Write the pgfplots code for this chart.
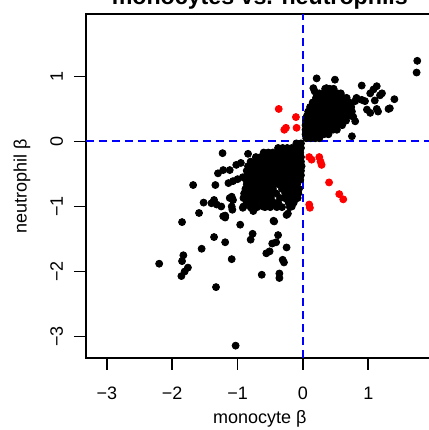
\documentclass[border=0pt]{standalone}
\usepackage{pgfplots}
\pgfplotsset{compat=1.18}
\usepackage{fontspec}
\setmainfont{Liberation Sans}

\begin{document}
\begin{tikzpicture}
% the reference is cropped: right border and top of title fall outside
\path[use as bounding box] (-43pt,-36pt) rectangle (171.5pt,179pt);
\clip (-43pt,-36pt) rectangle (171.5pt,179pt);
\begin{axis}[
    name=ax,
    at={(0,0)}, anchor=south west,
    scale only axis,
    width=173.8pt, height=172pt,
    xmin=-3.32, xmax=2.0,
    ymin=-3.33, ymax=1.96,
    xtick={-3,-2,-1,0,1}, ytick={-3,-2,-1,0,1},
    xticklabels={−3,−2,−1,0,1},
    yticklabels={−3,−2,−1,0,1},
    xtick pos=left, ytick pos=left,
    tick align=outside,
    major tick length=6pt,
    axis line style={line width=0.8pt},
    every tick/.style={black, line width=0.8pt},
    tick label style={font=\fontsize{9}{10}\selectfont},
    xticklabel style={anchor=base, yshift=-14.5pt},
    yticklabel style={xshift=-5.5pt, rotate=90, anchor=base},
    label style={font=\fontsize{9}{10}\selectfont},
    xlabel={monocyte β},
    ylabel={neutrophil β},
    xlabel style={at={(axis description cs:0.5,-0.19)}, anchor=base},
    ylabel style={at={(axis description cs:-0.171,0.5)}, anchor=base, rotate=0},
]
% black points: outliers, then the two dense clusters
\addplot[only marks, mark=*, mark size=1.75pt, black] coordinates {
(-1.23,-0.18) (-0.84,-0.19) (-1.68,-0.67) (-1.34,-0.67) (-1.85,-1.24)
(-1.59,-1.10) (-1.52,-0.94) (-1.40,-0.95) (-1.32,-0.97) (-1.25,-1.00)
(-1.36,-0.90) (-1.19,-1.14) (-1.19,-1.17) (-1.09,-0.85) (-1.07,-0.90)
(-1.08,-1.05) (-1.09,-1.00) (-0.92,-1.02) (-0.96,-1.28) (-0.77,-1.42)
(-0.80,-1.51) (-1.36,-1.47) (-1.19,-1.55) (-1.55,-1.65) (-1.83,-1.75)
(-1.85,-1.84) (-1.76,-1.94) (-1.81,-2.00) (-1.86,-2.07) (-2.20,-1.88)
(-1.09,-1.81) (-1.33,-2.24) (-0.63,-2.05) (-0.44,-1.23) (-0.38,-1.44)
(-0.47,-1.57) (-0.41,-1.55) (-0.56,-1.72) (-0.51,-1.69) (-0.25,-1.63)
(-0.31,-1.82) (-0.29,-1.86) (-0.36,-2.03) (-0.36,-2.10) (-1.03,-3.14)
(-0.23,-1.11) (-0.61,-1.00) (-0.76,-1.07) (-1.12,-0.87) (-1.22,-1.15)
(-0.91,-1.00) (-0.79,-1.02) (-0.45,-1.22) (-0.25,-1.13) (-0.17,-1.00)
(-1.14,-0.64) (-1.07,-0.61) (-1.00,-0.58) (-0.92,-0.55) (-0.84,-0.52) (-0.76,-0.49)
(-1.30,-0.49) (-1.22,-0.44) (-1.12,-0.44) (-1.02,-0.36) (-0.95,-0.33)
(1.75,1.24) (1.74,1.06) (0.21,0.97) (0.49,0.95) (0.16,0.82) (0.18,0.77)
(0.36,0.82) (0.39,0.74) (0.90,0.86) (1.13,0.85) (1.08,0.80) (1.03,0.74)
(1.21,0.74) (1.18,0.71) (1.40,0.65) (1.10,0.63) (0.82,0.67) (0.80,0.62)
(0.67,0.67) (0.90,0.64) (0.95,0.62) (1.13,0.50) (1.15,0.46) (1.33,0.51)
(1.31,0.50) (0.98,0.49) (1.03,0.44) (0.77,0.38) (0.80,0.31) (0.75,0.08)
(-0.10,-0.03) (-0.03,-0.03)
(-0.38,-0.10) (-0.31,-0.10) (-0.24,-0.10) (-0.17,-0.10) (-0.10,-0.10) (-0.03,-0.10)
(-0.60,-0.17) (-0.53,-0.17) (-0.46,-0.17) (-0.39,-0.17) (-0.32,-0.17) (-0.25,-0.17) (-0.18,-0.17) (-0.11,-0.17) (-0.04,-0.17)
(-0.72,-0.24) (-0.65,-0.24) (-0.58,-0.24) (-0.51,-0.24) (-0.44,-0.24) (-0.37,-0.24) (-0.30,-0.24) (-0.23,-0.24) (-0.16,-0.24) (-0.09,-0.24) (-0.03,-0.24)
(-0.80,-0.31) (-0.73,-0.31) (-0.66,-0.31) (-0.59,-0.31) (-0.52,-0.31) (-0.45,-0.31) (-0.38,-0.31) (-0.31,-0.31) (-0.24,-0.31) (-0.17,-0.31) (-0.10,-0.31) (-0.03,-0.31)
(-0.84,-0.38) (-0.77,-0.38) (-0.70,-0.38) (-0.63,-0.38) (-0.56,-0.38) (-0.49,-0.38) (-0.42,-0.38) (-0.35,-0.38) (-0.28,-0.38) (-0.21,-0.38) (-0.14,-0.38) (-0.07,-0.38) (-0.02,-0.38)
(-0.86,-0.45) (-0.79,-0.45) (-0.72,-0.45) (-0.65,-0.45) (-0.58,-0.45) (-0.51,-0.45) (-0.44,-0.45) (-0.37,-0.45) (-0.30,-0.45) (-0.23,-0.45) (-0.16,-0.45) (-0.09,-0.45) (-0.03,-0.45)
(-0.85,-0.52) (-0.78,-0.52) (-0.71,-0.52) (-0.64,-0.52) (-0.57,-0.52) (-0.50,-0.52) (-0.43,-0.52) (-0.36,-0.52) (-0.29,-0.52) (-0.22,-0.52) (-0.15,-0.52) (-0.08,-0.52) (-0.03,-0.52)
(-0.87,-0.59) (-0.80,-0.59) (-0.73,-0.59) (-0.66,-0.59) (-0.59,-0.59) (-0.52,-0.59) (-0.45,-0.59) (-0.38,-0.59) (-0.31,-0.59) (-0.24,-0.59) (-0.17,-0.59) (-0.10,-0.59) (-0.04,-0.59)
(-0.86,-0.66) (-0.79,-0.66) (-0.72,-0.66) (-0.65,-0.66) (-0.58,-0.66) (-0.51,-0.66) (-0.44,-0.66) (-0.37,-0.66) (-0.30,-0.66) (-0.23,-0.66) (-0.16,-0.66) (-0.09,-0.66)
(-0.88,-0.73) (-0.81,-0.73) (-0.74,-0.73) (-0.67,-0.73) (-0.60,-0.73) (-0.53,-0.73) (-0.46,-0.73) (-0.32,-0.73) (-0.25,-0.73) (-0.18,-0.73) (-0.11,-0.73) (-0.06,-0.73)
(-0.90,-0.80) (-0.83,-0.80) (-0.76,-0.80) (-0.69,-0.80) (-0.62,-0.80) (-0.55,-0.80) (-0.48,-0.80) (-0.41,-0.80) (-0.27,-0.80) (-0.20,-0.80) (-0.13,-0.80) (-0.07,-0.80)
(-0.91,-0.87) (-0.84,-0.87) (-0.77,-0.87) (-0.70,-0.87) (-0.63,-0.87) (-0.56,-0.87) (-0.49,-0.87) (-0.35,-0.87) (-0.28,-0.87) (-0.21,-0.87) (-0.14,-0.87) (-0.08,-0.87)
(-0.86,-0.94) (-0.79,-0.94) (-0.72,-0.94) (-0.62,-0.94) (-0.55,-0.94) (-0.45,-0.94) (-0.38,-0.94) (-0.22,-0.94) (-0.14,-0.94)
(-0.80,-1.01) (-0.70,-1.01) (-0.58,-1.01) (-0.50,-1.01) (-0.40,-1.01) (-0.32,-1.01) (-0.20,-1.01)
(0.34,0.81) (0.41,0.81) (0.47,0.81)
(0.25,0.74) (0.32,0.74) (0.39,0.74) (0.46,0.74) (0.53,0.74) (0.58,0.74)
(0.20,0.67) (0.27,0.67) (0.34,0.67) (0.41,0.67) (0.48,0.67) (0.55,0.67) (0.62,0.67)
(0.15,0.60) (0.22,0.60) (0.29,0.60) (0.36,0.60) (0.43,0.60) (0.50,0.60) (0.57,0.60) (0.64,0.60) (0.71,0.60)
(0.11,0.53) (0.18,0.53) (0.25,0.53) (0.32,0.53) (0.39,0.53) (0.46,0.53) (0.53,0.53) (0.60,0.53) (0.67,0.53) (0.74,0.53)
(0.08,0.46) (0.15,0.46) (0.22,0.46) (0.29,0.46) (0.36,0.46) (0.43,0.46) (0.50,0.46) (0.57,0.46) (0.64,0.46) (0.71,0.46) (0.75,0.46)
(0.06,0.39) (0.13,0.39) (0.20,0.39) (0.27,0.39) (0.34,0.39) (0.41,0.39) (0.48,0.39) (0.55,0.39) (0.62,0.39) (0.69,0.39)
(0.05,0.32) (0.12,0.32) (0.19,0.32) (0.26,0.32) (0.33,0.32) (0.40,0.32) (0.47,0.32) (0.54,0.32) (0.61,0.32) (0.66,0.32)
(0.04,0.25) (0.11,0.25) (0.18,0.25) (0.25,0.25) (0.32,0.25) (0.39,0.25) (0.46,0.25) (0.53,0.25) (0.60,0.25)
(0.04,0.18) (0.11,0.18) (0.18,0.18) (0.25,0.18) (0.32,0.18) (0.39,0.18) (0.46,0.18) (0.52,0.18)
(0.04,0.11) (0.11,0.11) (0.18,0.11) (0.25,0.11) (0.32,0.11) (0.39,0.11)
(0.05,0.05) (0.12,0.05) (0.19,0.05) (0.25,0.05)
};
% red points
\addplot[only marks, mark=*, mark size=1.75pt, red] coordinates {
(-0.37,0.50) (-0.107,0.375) (-0.26,0.21) (-0.285,0.18) (-0.097,0.21)
(0.096,-0.24) (0.133,-0.28) (0.25,-0.24) (0.27,-0.31) (0.286,-0.36)
(0.40,-0.63) (0.556,-0.81) (0.617,-0.89) (0.096,-0.97) (0.107,-1.02)
};
% reference lines at zero
\addplot[blue, line width=1pt, dash pattern=on 4pt off 2.5pt] coordinates {(0,-3.33) (0,1.96)};
\addplot[blue, line width=1pt, dash pattern=on 4pt off 2.5pt] coordinates {(-3.32,0) (2.0,0)};
\end{axis}
% title, mostly cropped off as in the reference
\node[anchor=base, yshift=4.75pt, font=\fontsize{11.6}{13}\selectfont\bfseries]
    at (ax.north) {monocytes vs. neutrophils};
\end{tikzpicture}
\end{document}
